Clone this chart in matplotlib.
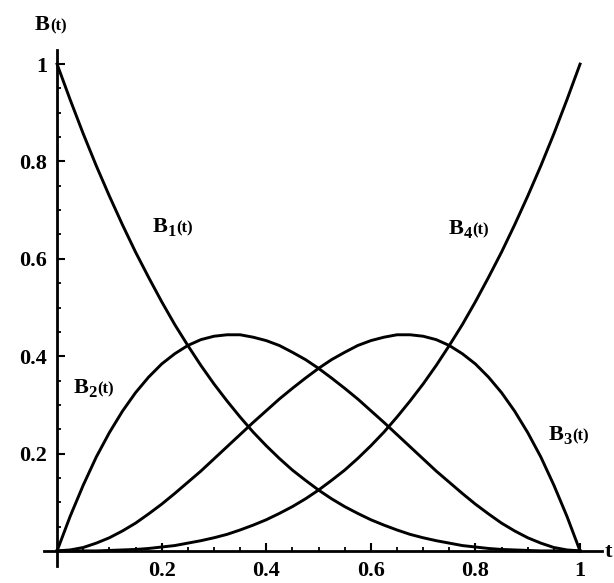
import matplotlib
matplotlib.use('Agg')
import matplotlib.pyplot as plt
from matplotlib.transforms import offset_copy

# values, t step 0.025
t = [0.0, 0.025, 0.05, 0.075, 0.1, 0.125, 0.15, 0.175, 0.2, 0.225,
     0.25, 0.275, 0.3, 0.325, 0.35, 0.375, 0.4, 0.425, 0.45, 0.475,
     0.5, 0.525, 0.55, 0.575, 0.6, 0.625, 0.65, 0.675, 0.7, 0.725,
     0.75, 0.775, 0.8, 0.825, 0.85, 0.875, 0.9, 0.925, 0.95, 0.975, 1.0]
b1 = [1.0, 0.927, 0.857, 0.791, 0.729, 0.670, 0.614, 0.562, 0.512, 0.465,
      0.422, 0.381, 0.343, 0.308, 0.275, 0.244, 0.216, 0.190, 0.166, 0.145,
      0.125, 0.107, 0.091, 0.077, 0.064, 0.053, 0.043, 0.034, 0.027, 0.021,
      0.016, 0.011, 0.008, 0.005, 0.003, 0.002, 0.001, 0.0, 0.0, 0.0, 0.0]
b2 = [0.0, 0.071, 0.135, 0.193, 0.243, 0.287, 0.325, 0.357, 0.384, 0.405,
      0.422, 0.434, 0.441, 0.444, 0.444, 0.439, 0.432, 0.422, 0.408, 0.393,
      0.375, 0.355, 0.334, 0.312, 0.288, 0.264, 0.239, 0.214, 0.189, 0.164,
      0.141, 0.118, 0.096, 0.076, 0.057, 0.041, 0.027, 0.016, 0.007, 0.002, 0.0]
b3 = [0.0, 0.002, 0.007, 0.016, 0.027, 0.041, 0.057, 0.076, 0.096, 0.118,
      0.141, 0.164, 0.189, 0.214, 0.239, 0.264, 0.288, 0.312, 0.334, 0.355,
      0.375, 0.393, 0.408, 0.422, 0.432, 0.439, 0.444, 0.444, 0.441, 0.434,
      0.422, 0.405, 0.384, 0.357, 0.325, 0.287, 0.243, 0.193, 0.135, 0.071, 0.0]
b4 = [0.0, 0.0, 0.0, 0.0, 0.001, 0.002, 0.003, 0.005, 0.008, 0.011,
      0.016, 0.021, 0.027, 0.034, 0.043, 0.053, 0.064, 0.077, 0.091, 0.107,
      0.125, 0.145, 0.166, 0.190, 0.216, 0.244, 0.275, 0.308, 0.343, 0.381,
      0.422, 0.465, 0.512, 0.562, 0.614, 0.670, 0.729, 0.791, 0.857, 0.927, 1.0]

xticks = [0.2, 0.4, 0.6, 0.8, 1.0]
xtick_labels = ['0.2', '0.4', '0.6', '0.8', '1']
yticks = [0.2, 0.4, 0.6, 0.8, 1.0]
ytick_labels = ['0.2', '0.4', '0.6', '0.8', '1']
minor = [0.05, 0.1, 0.15, 0.25, 0.3, 0.35, 0.45, 0.5, 0.55,
         0.65, 0.7, 0.75, 0.85, 0.9, 0.95]

FONT = 'Liberation Serif'

fig = plt.figure(figsize=(6.14, 5.83), dpi=100)
ax = fig.add_axes([44/614, 17/583, 558/614, 516/583])

for yy in (b1, b2, b3, b4):
    ax.plot(t, yy, color='black', lw=2.1, clip_on=False,
            solid_joinstyle='round')

ax.set_xlim(-0.025, 1.042)
ax.set_ylim(-0.031, 1.029)

ax.spines['left'].set_position(('data', 0))
ax.spines['bottom'].set_position(('data', 0))
ax.spines['top'].set_visible(False)
ax.spines['right'].set_visible(False)
for s in ('left', 'bottom'):
    ax.spines[s].set_linewidth(2.0)

ax.set_xticks(xticks)
ax.set_xticklabels(xtick_labels)
ax.set_yticks(yticks)
ax.set_yticklabels(ytick_labels)
ax.set_xticks(minor, minor=True)
ax.set_yticks(minor, minor=True)
ax.tick_params(which='major', direction='in', length=6, width=1.5, pad=7)
ax.tick_params(which='minor', direction='in', length=3, width=1.3)
for lab in ax.get_xticklabels() + ax.get_yticklabels():
    lab.set_fontfamily(FONT)
    lab.set_fontweight('bold')
    lab.set_fontsize(16)


def blabel(x, y, sub):
    # big B, slightly lowered digit, smaller (t)
    kw = dict(fontfamily=FONT, fontweight='bold', ha='left', va='baseline')
    ax.text(x, y, 'B', fontsize=16, **kw)
    dx = 11.0
    if sub:
        tr = offset_copy(ax.transData, fig=fig, x=dx, y=-3, units='points')
        ax.text(x, y, sub, fontsize=12, transform=tr, **kw)
        dx += 6.5
    tr = offset_copy(ax.transData, fig=fig, x=dx, y=0, units='points')
    ax.text(x, y, '(t)', fontsize=12, transform=tr, **kw)


blabel(0.182, 0.655, '1')
blabel(0.031, 0.324, '2')
blabel(0.939, 0.228, '3')
blabel(0.748, 0.651, '4')
blabel(-0.042, 1.07, '')
ax.text(1.046, -0.012, 't', fontfamily=FONT, fontweight='bold', fontsize=16,
        ha='left', va='baseline')

fig.savefig('out.png', dpi=100)
